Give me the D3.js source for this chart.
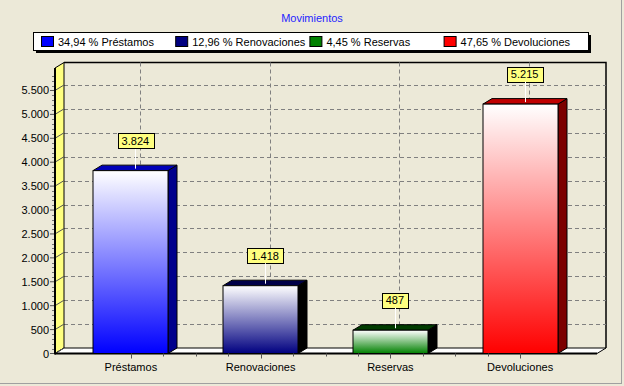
<!DOCTYPE html>
<html><head><meta charset="utf-8">
<script src="https://cdn.jsdelivr.net/npm/d3@7"></script>
<style>
html,body{margin:0;padding:0;background:#ECE9D8;}
svg{display:block;font-family:"Liberation Sans",Arial,sans-serif;}
</style></head>
<body>
<script>
const title = "Movimientos";
const categories = ["Préstamos", "Renovaciones", "Reservas", "Devoluciones"];
const values = [3824, 1418, 487, 5215];
const colors = ["#0000ff", "#000080", "#008000", "#ff0000"];
const topColors = ["#0000b8", "#000048", "#003c00", "#c00000"];
const sideColors = ["#00008c", "#000000", "#000000", "#7c0000"];
const yTicks = [0, 500, 1000, 1500, 2000, 2500, 3000, 3500, 4000, 4500, 5000, 5500];

const W = 624, H = 386;
const DX = 9, DY = -5.5;
const left = 55, right = 597, y0px = 353.5, yTopPx = 68;

const loc = d3.formatLocale({decimal: ",", thousands: ".", grouping: [3], currency: ["", "€"]});
const fmt = loc.format(",d");
const pfmt = loc.format(".2f");

const svg = d3.select("body").append("svg").attr("width", W).attr("height", H);

// background + panel border
svg.append("rect").attr("width", W).attr("height", H).attr("fill", "#ECE9D8");
svg.append("line").attr("x1", 621.5).attr("x2", 621.5).attr("y1", 0).attr("y2", 384).attr("stroke", "#a0a0a0");
svg.append("line").attr("x1", 0).attr("x2", 622).attr("y1", 383.5).attr("y2", 383.5).attr("stroke", "#a0a0a0");

const y = d3.scaleLinear().domain([0, 5970]).range([y0px, yTopPx]);
const x = d3.scaleBand().domain(categories).range([66, 585]);
const barW = 75;

// title
svg.append("text").attr("x", 312).attr("y", 22).attr("text-anchor", "middle")
  .attr("font-size", 11).attr("fill", "#1f1fff").text(title);

// legend
const total = d3.sum(values);
const lg = svg.append("g");
lg.append("rect").attr("x", 36).attr("y", 35).attr("width", 555).attr("height", 18).attr("fill", "#000");
lg.append("rect").attr("x", 33.5).attr("y", 32.5).attr("width", 555).attr("height", 18).attr("fill", "#fff").attr("stroke", "#000");
categories.forEach((c, i) => {
  const lx = 41 + i * 134.2;
  lg.append("rect").attr("x", lx + 0.5).attr("y", 36.5).attr("width", 12).attr("height", 10)
    .attr("fill", colors[i]).attr("stroke", "#000");
  lg.append("text").attr("x", lx + 17).attr("y", 45.5).attr("font-size", 11).attr("fill", "#000")
    .text(pfmt(values[i] / total * 100) + " % " + c);
});

// back wall
svg.append("rect").attr("x", left + DX).attr("y", yTopPx + DY).attr("width", right - left)
  .attr("height", y0px - yTopPx).attr("fill", "#ECE9D8");
svg.append("path").attr("d", `M${left+DX},${yTopPx+DY}H${right+DX}V${y0px+DY}`)
  .attr("fill", "none").attr("stroke", "#000").attr("stroke-width", 1.5);

// horizontal grid on back wall
svg.append("g").selectAll("line").data(yTicks.filter(d => d > 0)).join("line")
  .attr("x1", left + DX).attr("x2", right + DX)
  .attr("y1", d => Math.round(y(d) + DY) + 0.5).attr("y2", d => Math.round(y(d) + DY) + 0.5)
  .attr("stroke", "#808080").attr("stroke-dasharray", "4,3");
// vertical grid on back wall
svg.append("g").selectAll("line").data(categories).join("line")
  .attr("x1", d => Math.round(x(d) + x.bandwidth() / 2 + DX) + 0.5)
  .attr("x2", d => Math.round(x(d) + x.bandwidth() / 2 + DX) + 0.5)
  .attr("y1", yTopPx + DY).attr("y2", y0px + DY)
  .attr("stroke", "#808080").attr("stroke-dasharray", "4,3");

// left wall
svg.append("path").attr("d", `M${left},${yTopPx}L${left+DX},${yTopPx+DY}V${y0px+DY}L${left},${y0px}Z`)
  .attr("fill", "#ffff80").attr("stroke", "#000").attr("stroke-width", 1);
// floor
svg.append("path").attr("d", `M${left},${y0px}L${left+DX},${y0px+DY}H${right+DX}L${right},${y0px}Z`)
  .attr("fill", "#fff").attr("stroke", "#000").attr("stroke-width", 1);

// wall tick diagonals
svg.append("g").selectAll("path").data(yTicks).join("path")
  .attr("d", d => `M${left-5},${y(d)}H${left}L${left+DX},${y(d)+DY}`)
  .attr("fill", "none").attr("stroke", "#555").attr("stroke-width", 1);
// minor ticks
const minor = d3.range(100, 5900, 100).filter(d => d % 500 !== 0);
svg.append("g").selectAll("line").data(minor).join("line")
  .attr("x1", left - 3).attr("x2", left).attr("y1", d => Math.round(y(d)) + 0.5).attr("y2", d => Math.round(y(d)) + 0.5)
  .attr("stroke", "#777");

// axis lines
svg.append("line").attr("x1", left).attr("x2", left).attr("y1", yTopPx).attr("y2", y0px + 1)
  .attr("stroke", "#000").attr("stroke-width", 2);
svg.append("line").attr("x1", left).attr("x2", right).attr("y1", y0px).attr("y2", y0px)
  .attr("stroke", "#000").attr("stroke-width", 2);

// y tick labels
svg.append("g").selectAll("text").data(yTicks).join("text")
  .attr("x", 49).attr("y", d => y(d) + 4).attr("text-anchor", "end")
  .attr("font-size", 11).attr("fill", "#000").text(d => fmt(d));

// gradients
const defs = svg.append("defs");
colors.forEach((c, i) => {
  const g = defs.append("linearGradient").attr("id", "g" + i).attr("x1", 0).attr("x2", 0).attr("y1", 0).attr("y2", 1);
  g.append("stop").attr("offset", 0).attr("stop-color", "#fff");
  g.append("stop").attr("offset", 1).attr("stop-color", c);
});

// bars
const bars = svg.append("g");
categories.forEach((c, i) => {
  const cx = x(c) + x.bandwidth() / 2;
  const x0 = Math.round(cx - barW / 2), x1 = x0 + barW;
  const yt = y(values[i]), yb = y(0);
  bars.append("path").attr("d", `M${x1},${yt}L${x1+DX},${yt+DY}V${yb+DY}L${x1},${yb}Z`)
    .attr("fill", sideColors[i]).attr("stroke", "#000").attr("stroke-width", 1);
  bars.append("path").attr("d", `M${x0},${yt}L${x0+DX},${yt+DY}H${x1+DX}L${x1},${yt}Z`)
    .attr("fill", topColors[i]).attr("stroke", "#000").attr("stroke-width", 1);
  bars.append("rect").attr("x", x0).attr("y", yt).attr("width", barW).attr("height", yb - yt)
    .attr("fill", `url(#g${i})`).attr("stroke", "#000").attr("stroke-width", 1);
});

// bottom ticks
const ticksG = svg.append("g");
for (let i = 0; i < categories.length; i++) {
  const cx = x(categories[i]) + x.bandwidth() / 2;
  ticksG.append("line").attr("x1", Math.round(cx) + 0.5).attr("x2", Math.round(cx) + 0.5)
    .attr("y1", y0px).attr("y2", y0px + 5).attr("stroke", "#555");
  if (i < categories.length - 1) {
    for (let k = 1; k < 4; k++) {
      const mx = cx + k * x.bandwidth() / 4;
      ticksG.append("line").attr("x1", Math.round(mx) + 0.5).attr("x2", Math.round(mx) + 0.5)
        .attr("y1", y0px).attr("y2", y0px + 3).attr("stroke", "#555");
    }
  }
}
// category labels
svg.append("g").selectAll("text").data(categories).join("text")
  .attr("x", d => x(d) + x.bandwidth() / 2).attr("y", 371).attr("text-anchor", "middle")
  .attr("font-size", 11).attr("fill", "#000").text(d => d);

// value labels
const labG = svg.append("g");
categories.forEach((c, i) => {
  const lx = x(c) + x.bandwidth() / 2 + DX / 2;
  const yt = y(values[i]);
  const bb = yt - 22.5;
  labG.append("line").attr("x1", Math.round(lx) + 0.5).attr("x2", Math.round(lx) + 0.5)
    .attr("y1", bb).attr("y2", yt - 2).attr("stroke", "#fff");
  const t = labG.append("text").attr("x", lx).attr("y", bb - 3.5).attr("text-anchor", "middle")
    .attr("font-size", 11).attr("fill", "#000").text(fmt(values[i]));
  const w = t.node().getComputedTextLength() + 8;
  labG.insert("rect", "text").attr("x", Math.round(lx - w / 2) + 0.5).attr("y", Math.round(bb - 15) + 0.5)
    .attr("width", Math.round(w)).attr("height", 15).attr("fill", "#ffff80").attr("stroke", "#000");
});
</script>
</body></html>
